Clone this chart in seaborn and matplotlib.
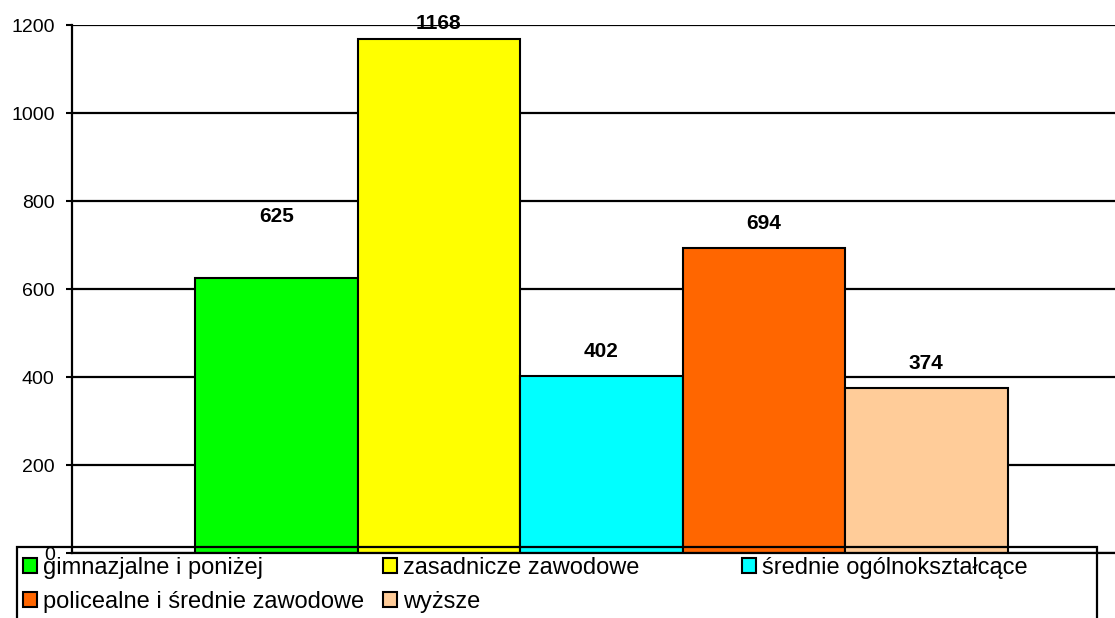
import matplotlib
matplotlib.use("Agg")
import matplotlib.pyplot as plt
import seaborn as sns
import pandas as pd
from matplotlib.patches import Patch, Rectangle

categories = ["gimnazjalne i poniżej", "zasadnicze zawodowe", "średnie ogólnokształcące",
              "policealne i średnie zawodowe", "wyższe"]
values = [625, 1168, 402, 694, 374]
colors = ["#00FF00", "#FFFF00", "#00FFFF", "#FF6600", "#FFCC99"]
yticks = [0, 200, 400, 600, 800, 1000, 1200]
label_offsets_px = [61, 16, 25, 24, 25]

sns.set_style("white")
plt.rcParams["font.family"] = ["Liberation Sans", "DejaVu Sans"]

W, H = 1115, 618
fig = plt.figure(figsize=(W / 100, H / 100), dpi=100)
ax = fig.add_axes([72 / W, 1 - 553 / H, 1 - 72 / W, (553 - 25) / H])

df = pd.DataFrame({"cat": categories, "val": values})
sns.barplot(data=df, x="cat", y="val", hue="cat", palette=colors, order=categories,
            hue_order=categories, width=1, dodge=False, edgecolor="black",
            linewidth=1.5, legend=False, ax=ax, saturation=1)

ax.set_xlim(-1.257, 5.161)
ax.set_ylim(0, 1200)
ax.set_yticks(yticks)
ax.set_yticklabels([str(t) for t in yticks], fontsize=14, color="black")
ax.set_xticks([])
ax.set_xlabel("")
ax.set_ylabel("")
ax.yaxis.grid(True, color="black", linewidth=1.6)
ax.set_axisbelow(True)
ax.tick_params(axis="y", left=True, length=4, width=1.5, color="black", pad=8.5)
for s in ["top", "right"]:
    ax.spines[s].set_visible(False)
for s in ["left", "bottom"]:
    ax.spines[s].set_visible(True)
    ax.spines[s].set_color("black")
    ax.spines[s].set_linewidth(1.6)

for i, (v, off) in enumerate(zip(values, label_offsets_px)):
    ax.annotate(str(v), xy=(i, v), xytext=(0, off * 0.72), textcoords="offset points",
                ha="center", va="center", fontsize=15, fontweight="bold", color="black",
                annotation_clip=False)

# legend frame
fig.add_artist(Rectangle((17 / W, -0.05), (1097 - 17) / W, 0.05 + 1 - 547 / H,
                         transform=fig.transFigure, facecolor="none", edgecolor="black",
                         linewidth=1.6, zorder=5))

cols = [[0, 3], [1, 4], [2]]
col_x = [23, 383, 742]
for idxs, cx in zip(cols, col_x):
    handles = [Patch(facecolor=colors[i], edgecolor="black", linewidth=1.5) for i in idxs]
    labels = [categories[i] for i in idxs]
    leg = fig.legend(handles, labels, loc="upper left", bbox_to_anchor=(cx / W, 1 - 557 / H),
                     frameon=False, fontsize=17, handlelength=0.58, handleheight=0.58,
                     handletextpad=0.25, borderpad=0, borderaxespad=0, labelspacing=0.5)
    for t in leg.get_texts():
        t.set_color("black")

fig.savefig("out.png", dpi=100)
